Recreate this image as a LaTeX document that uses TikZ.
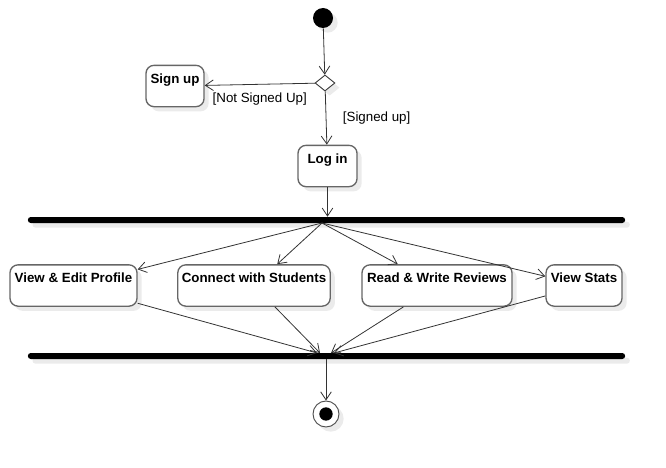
\documentclass[tikz,border=0pt]{standalone}
\usepackage{fontspec}
\setmainfont{Liberation Sans}
\usetikzlibrary{shapes.geometric,shadows,arrows.meta}

\begin{document}
\begin{tikzpicture}[x=0.75pt,y=-0.75pt,>={Straight Barb[length=6pt,width=8pt]}]
        \tikzstyle{every node}=[font=\fontsize{10}{12}\selectfont]
        \tikzstyle{castshadow}=[drop shadow={shadow xshift=3.5pt,shadow yshift=-3.5pt,fill=black!8,opacity=1}]
        \tikzstyle{activity}=[draw=black!60,line width=1pt,fill=white,rounded corners=6pt,castshadow,font=\fontsize{10}{12}\selectfont\bfseries,inner xsep=3pt,inner ysep=3pt,text height=10.5pt,text depth=14.5pt]
        \tikzstyle{syncbar}=[fill=black,rounded corners=2.2pt,inner sep=0pt,minimum height=4.5pt,minimum width=448pt,castshadow]
        \tikzstyle{flow}=[draw=black!80,line width=0.6pt,->]
        \useasboundingbox (0,0) rectangle (666,467);
        % start, choice, sign up / log in
        \node[circle,fill=black,inner sep=0pt,minimum size=15pt,castshadow] (start) at (323,18) {};
        \node[diamond,draw=black!75,fill=white,line width=0.7pt,inner sep=0pt,minimum width=15pt,minimum height=12pt,castshadow] (choice) at (325,83) {};
        \node[activity,minimum width=43.5pt] (signup) at (175,86) {Sign up};
        \node[activity,minimum width=44.25pt] (login) at (327.5,166) {Log in};
        % fork and join
        \node[syncbar] (fork) at (326.5,220) {};
        \node[syncbar] (join) at (326.5,356) {};
        \coordinate (split) at (322,223);
        \coordinate (in1) at (317,353);
        \coordinate (in2) at (320,353);
        \coordinate (in3) at (331,353);
        \coordinate (in4) at (334,353);
        % activities
        \node[activity,minimum width=95.25pt] (viewedit) at (73.5,285.5) {View \& Edit Profile};
        \node[activity,minimum width=114pt] (connect) at (254,285.5) {Connect with Students};
        \node[activity,minimum width=112.5pt] (reviews) at (437,285.5) {Read \& Write Reviews};
        \node[activity,minimum width=57pt] (stats) at (584,285.5) {View Stats};
        \node[circle,draw=black!70,line width=0.7pt,fill=white,inner sep=0pt,minimum size=19.5pt,castshadow,
              path picture={\fill[black] (path picture bounding box.center) circle (5pt);}] (finish) at (326,414) {};
        % flows
        \draw[flow] (start) -- (choice);
        \draw[flow] (choice) -- node[below=2.5pt] {[Not Signed Up]} (signup);
        \draw[flow] (choice) -- node[right=9pt] {[Signed up]} (login);
        \draw[flow] (login.south) -- (login.south |- fork.north);
        \foreach \act in {viewedit,connect,reviews,stats}
            \draw[flow] (split) -- (\act);
        \foreach \act/\pt in {viewedit/in1,connect/in2,reviews/in3,stats/in4}
            \draw[flow] (\act) -- (\pt);
        \draw[flow] (join.south -| finish) -- (finish);
    \end{tikzpicture}
\end{document}
